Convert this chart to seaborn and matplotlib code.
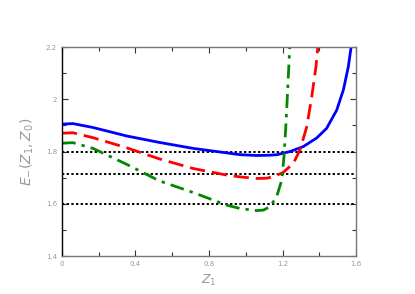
import matplotlib
matplotlib.use('Agg')
import matplotlib.pyplot as plt
import seaborn as sns

# values
blue_x = [0.0, 0.06, 0.17, 0.35, 0.53, 0.715, 0.896, 0.97, 1.06, 1.13, 1.17, 1.24, 1.313, 1.386, 1.44, 1.495, 1.531, 1.558, 1.575]
blue_y = [1.905, 1.907, 1.892, 1.86, 1.835, 1.812, 1.795, 1.788, 1.785, 1.786, 1.788, 1.8, 1.819, 1.852, 1.889, 1.959, 2.036, 2.125, 2.21]

red_x = [0.0, 0.06, 0.17, 0.35, 0.53, 0.715, 0.896, 0.97, 1.06, 1.114, 1.15, 1.204, 1.259, 1.295, 1.332, 1.359, 1.382, 1.393]
red_y = [1.87, 1.872, 1.853, 1.815, 1.772, 1.735, 1.71, 1.703, 1.697, 1.698, 1.704, 1.72, 1.755, 1.806, 1.895, 2.01, 2.125, 2.21]

green_x = [0.0, 0.06, 0.17, 0.35, 0.53, 0.715, 0.896, 0.97, 1.06, 1.096, 1.132, 1.168, 1.196, 1.208, 1.219, 1.228, 1.24]
green_y = [1.832, 1.834, 1.812, 1.752, 1.688, 1.643, 1.595, 1.582, 1.574, 1.576, 1.589, 1.627, 1.691, 1.78, 1.908, 2.036, 2.21]

levels = [1.8, 1.715, 1.6]

xticks = [0, 0.4, 0.8, 1.2, 1.6]
xticklabels = ['0', '0.4', '0.8', '1.2', '1.6']
yticks = [1.4, 1.6, 1.8, 2.0, 2.2]
yticklabels = ['1.4', '1.6', '1.8', '2', '2.2']

sns.set_style('ticks')
fig = plt.figure(figsize=(4.15, 2.94), dpi=100)
ax = fig.add_axes([0.149, 0.129, 0.709, 0.711])

for lev in levels:
    ax.axhline(lev, color='black', ls=(0, (1.2, 1.2)), lw=1.4, zorder=1)

sns.lineplot(x=blue_x, y=blue_y, ax=ax, color='#0000ff', lw=2.0, sort=False)
sns.lineplot(x=red_x, y=red_y, ax=ax, color='#ff0000', lw=2.0, sort=False,
             linestyle=(0, (5.5, 2.5)))
sns.lineplot(x=green_x, y=green_y, ax=ax, color='#008800', lw=2.0, sort=False,
             linestyle=(0, (5, 2.2, 1.2, 2.2)))

ax.set_xlim(0, 1.6)
ax.set_ylim(1.4, 2.2)
ax.set_xticks(xticks, labels=xticklabels)
ax.set_xticks([0.2, 0.6, 1.0, 1.4], minor=True)
ax.set_yticks(yticks, labels=yticklabels)
ax.set_yticks([1.5, 1.7, 1.9, 2.1], minor=True)
ax.tick_params(which='both', direction='in', top=True, right=True,
               labelsize=5, labelcolor='#999999', color='#333333', width=0.8)
ax.tick_params(which='major', length=4)
ax.tick_params(which='minor', length=3)

for side in ['top', 'right', 'bottom']:
    ax.spines[side].set_color('#777777')
ax.spines['left'].set_color('black')
for sp in ax.spines.values():
    sp.set_linewidth(1.0)

ax.set_xlabel('$Z_1$', fontsize=9, color='#999999', labelpad=4)
ax.set_ylabel('$E_{-}(Z_1,Z_0)$', fontsize=10, color='#999999', labelpad=7)

fig.savefig('out.png', dpi=100)
